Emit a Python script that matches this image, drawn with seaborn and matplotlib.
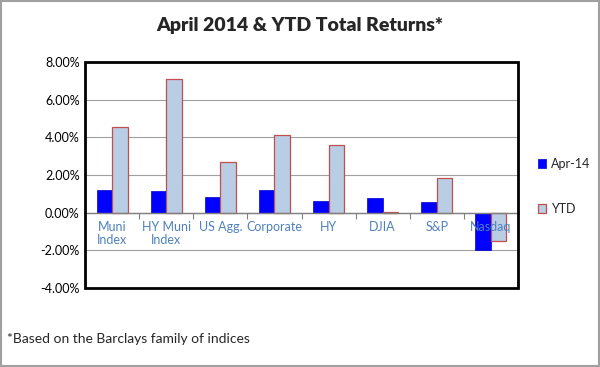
import pandas as pd
import matplotlib
matplotlib.use('Agg')
import matplotlib.pyplot as plt
import seaborn as sns
from matplotlib.patches import Rectangle
from matplotlib.ticker import FuncFormatter, FixedLocator

# --- data ---
categories = ['Muni\nIndex', 'HY Muni\nIndex', 'US Agg.', 'Corporate', 'HY', 'DJIA', 'S&P', 'Nasdaq']
apr_14 = [1.22, 1.17, 0.83, 1.20, 0.64, 0.76, 0.57, -2.00]
ytd = [4.56, 7.10, 2.69, 4.15, 3.62, 0.03, 1.84, -1.48]
series_names = ['Apr-14', 'YTD']

df = pd.DataFrame({
    'category': categories * 2,
    'series': [series_names[0]] * len(categories) + [series_names[1]] * len(categories),
    'value': apr_14 + ytd,
})

sns.set_theme(style='white')
plt.rcParams['font.family'] = ['Lato', 'DejaVu Sans']

fig = plt.figure(figsize=(6, 3.67), dpi=100)
ax = fig.add_axes([0.142, 0.215, 0.721, 0.616])

sns.barplot(data=df, x='category', y='value', hue='series', order=categories,
            hue_order=series_names, palette=['#0000FF', '#B9CDE5'],
            width=0.57, saturation=1, ax=ax)

edge = {'Apr-14': ('#0000CC', 0.5), 'YTD': ('#C0504D', 0.9)}
for bar, name in zip(ax.containers, series_names):
    for p in bar:
        p.set_edgecolor(edge[name][0])
        p.set_linewidth(edge[name][1])

ax.set_ylim(-4, 8)
ax.set_xlim(-0.5, len(categories) - 0.5)
ax.yaxis.set_major_locator(FixedLocator([-4, -2, 0, 2, 4, 6, 8]))
ax.yaxis.set_major_formatter(FuncFormatter(lambda v, _: f'{v:.2f}%'))
ax.tick_params(axis='y', labelsize=9, colors='black', length=0, pad=4)
ax.grid(axis='y', color='#A0A0A0', linewidth=0.8)
ax.set_axisbelow(True)
ax.set_xlabel('')
ax.set_ylabel('')

# category axis sits on the zero line, its labels drawn over the bars
for s in ['top', 'right', 'left']:
    ax.spines[s].set_visible(False)
ax.spines['bottom'].set_position(('data', 0))
ax.spines['bottom'].set_color('#808080')
ax.spines['bottom'].set_linewidth(1.0)
ax.spines['bottom'].set_zorder(4)
ax.set_xticks(range(len(categories)))
ax.set_xticklabels(categories, fontsize=9, color='#4F81BD', linespacing=1.05)
ax.set_xticks([i + 0.5 for i in range(len(categories) - 1)], minor=True)
ax.tick_params(axis='x', which='major', length=0, pad=6)
ax.tick_params(axis='x', which='minor', length=4, color='#808080', width=0.8, direction='out', bottom=True)
ax.xaxis.set_zorder(4)

# heavy plot-area frame
ax.add_patch(Rectangle((0, 0), 1, 1, transform=ax.transAxes, fill=False,
                       edgecolor='black', linewidth=2, clip_on=False, zorder=5))

# legend at the right
leg = ax.legend(loc='center left', bbox_to_anchor=(1.02, 0.45), frameon=False,
                fontsize=9, labelspacing=2.6, handlelength=0.7, handleheight=0.7,
                handletextpad=0.4)
for h, name in zip(leg.legend_handles, series_names):
    h.set_edgecolor(edge[name][0])
    h.set_linewidth(edge[name][1])

fig.suptitle('April 2014 & YTD Total Returns*', x=0.5, y=0.955, fontsize=14,
             fontweight='heavy')
fig.text(0.012, 0.065, '*Based on the Barclays family of indices', fontsize=10)

# grey outer border
fig.add_artist(Rectangle((0.001, 0.002), 0.997, 0.995, transform=fig.transFigure,
                         fill=False, edgecolor='#A0A0A0', linewidth=1.5))

fig.savefig('out.png', dpi=100, facecolor='white')
